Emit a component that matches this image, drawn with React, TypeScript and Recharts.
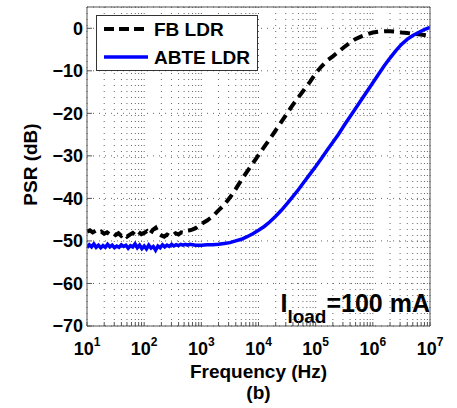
import React from "react";
import { CartesianGrid, Legend, Line, LineChart, XAxis, YAxis } from "recharts";

// FB LDR (black dashed): log10(frequency) and PSR in dB
const fbLogF = [
  1.0, 1.05, 1.1, 1.15, 1.2, 1.25, 1.3, 1.35, 1.4, 1.45, 1.5, 1.55, 1.6, 1.65, 1.7, 1.75, 1.8, 1.85, 1.9, 1.95,
  2.0, 2.05, 2.1, 2.15, 2.2, 2.25, 2.3, 2.35, 2.4, 2.45, 2.5, 2.55, 2.6, 2.65, 2.7, 2.75, 2.8, 2.85,
  2.9, 3.0, 3.1, 3.2, 3.3, 3.4, 3.5, 3.6, 3.7, 3.8, 3.9, 4.0, 4.1, 4.2, 4.3, 4.4, 4.5, 4.6, 4.7, 4.8, 4.9,
  5.0, 5.1, 5.2, 5.3, 5.4, 5.5, 5.6, 5.7, 5.8, 5.9, 6.0, 6.1, 6.2, 6.3, 6.4, 6.5, 6.6, 6.7, 6.8, 6.9, 7.0,
];
const fbDb = [
  -47.8, -47.5, -48.0, -47.6, -48.1, -47.8, -48.3, -48.0, -48.5, -48.1, -48.6, -48.2, -48.8, -48.3, -49.0, -48.5, -48.1, -48.7, -47.9, -48.4,
  -48.1, -47.7, -48.5, -47.4, -46.9, -48.3, -48.7, -49.0, -48.5, -48.9, -48.7, -48.2, -48.5, -48.0, -48.1, -47.6, -47.5, -47.3,
  -47.0, -46.0, -45.2, -44.2, -42.8, -41.5, -39.8, -37.8, -35.7, -33.7, -31.8, -29.8, -27.9, -26.0, -24.0, -22.0, -20.0, -18.0, -16.2, -14.4, -12.6,
  -10.6, -9.0, -7.6, -6.6, -5.5, -4.4, -3.4, -2.5, -1.9, -1.4, -1.0, -0.8, -0.7, -0.7, -0.8, -1.0, -1.1, -1.3, -1.4, -1.6, -1.8,
];

// ABTE LDR (blue solid)
const abteLogF = [
  1.0, 1.04, 1.08, 1.12, 1.16, 1.2, 1.24, 1.28, 1.32, 1.36, 1.4, 1.44, 1.48, 1.52, 1.56, 1.6, 1.64, 1.68, 1.72, 1.76,
  1.8, 1.84, 1.88, 1.92, 1.96, 2.0, 2.04, 2.08, 2.12, 2.16, 2.2, 2.24, 2.28, 2.32, 2.36, 2.4, 2.44, 2.48, 2.52, 2.56,
  2.6, 2.64, 2.68, 2.72, 2.76, 2.8, 2.85, 2.9, 2.95,
  3.0, 3.1, 3.2, 3.3, 3.4, 3.5, 3.6, 3.7, 3.8, 3.9, 4.0, 4.1, 4.2, 4.3, 4.4, 4.5, 4.6, 4.7, 4.8, 4.9,
  5.0, 5.1, 5.2, 5.3, 5.4, 5.5, 5.6, 5.7, 5.8, 5.9, 6.0, 6.1, 6.2, 6.3, 6.4, 6.5, 6.6, 6.7, 6.8, 6.9, 7.0,
];
const abteDb = [
  -51.6, -50.9, -51.4, -50.7, -51.5, -51.0, -51.6, -51.1, -51.5, -50.8, -51.4, -51.0, -51.6, -51.2, -51.5, -50.9, -51.3, -51.0, -51.7, -51.1,
  -51.4, -50.7, -51.6, -51.0, -51.8, -51.2, -51.9, -51.0, -51.7, -51.3, -52.2, -51.2, -51.6, -50.9, -51.4, -51.0, -51.3, -50.8, -51.2, -50.9,
  -51.1, -50.8, -51.0, -50.8, -51.0, -50.8, -50.9, -51.0, -51.0,
  -51.0, -50.9, -50.9, -50.8, -50.6, -50.4, -50.0, -49.6, -49.0, -48.3, -47.5, -46.6, -45.5, -44.2, -42.8, -41.2, -39.6, -37.9, -36.1, -34.3,
  -32.5, -30.6, -28.7, -26.8, -24.9, -22.8, -20.8, -18.8, -16.8, -14.8, -12.8, -10.8, -8.8, -7.0, -5.3, -3.8, -2.6, -1.7, -1.0, -0.3, 0.2,
];

const seriesNames = ["FB LDR", "ABTE LDR"];
const decades = [10, 100, 1000, 10000, 100000, 1000000, 10000000];
const minorSteps = [1, 2, 3, 4, 5, 6, 7, 8, 9];
const yTicks = [-70, -60, -50, -40, -30, -20, -10, 0];

const xTicks = decades.flatMap((d) => (d === 10000000 ? [d] : minorSteps.map((m) => d * m)));

const fbRows = fbLogF.map((l, i) => ({ f: Math.pow(10, l), db: fbDb[i] }));
const abteRows = abteLogF.map((l, i) => ({ f: Math.pow(10, l), db: abteDb[i] }));

const boxColor = "#555";

function FreqTick(props: any) {
  const { x, y, payload } = props;
  const e = Math.round(Math.log10(payload.value));
  if (Math.abs(Math.log10(payload.value) - e) > 1e-9) return null;
  return (
    <text x={x} y={y} textAnchor="middle" fontSize={18} fontWeight="bold" fill="#000">
      10
      <tspan dy={-9} fontSize={12}>
        {e}
      </tspan>
    </text>
  );
}

function XTitle(props: any) {
  const vb = props.viewBox;
  const cx = vb.x + vb.width / 2;
  return (
    <g fontSize={19} fontWeight="bold" fill="#000">
      <text x={cx} y={vb.y + 52} textAnchor="middle">Frequency (Hz)</text>
      <text x={cx} y={vb.y + 73} textAnchor="middle">(b)</text>
    </g>
  );
}

function YTitle(props: any) {
  const vb = props.viewBox;
  const x = vb.x + 10;
  const y = vb.y + vb.height / 2 - 2;
  return (
    <text x={x} y={y} transform={`rotate(-90, ${x}, ${y})`} textAnchor="middle" fontSize={19} fontWeight="bold" fill="#000">
      PSR (dB)
    </text>
  );
}

function LegendBox() {
  return (
    <div style={{ width: 160, height: 54, border: "1px solid #333", background: "#fff", fontSize: 19, fontWeight: "bold" }}>
      {seriesNames.map((name, i) => (
        <div key={name} style={{ display: "flex", alignItems: "center", height: 28, marginTop: i === 0 ? -1 : 0 }}>
          <svg width={44} height={8} style={{ marginLeft: 7 }}>
            <line x1={0} y1={4} x2={44} y2={4} stroke={i === 0 ? "#000" : "#0000ff"} strokeWidth={i === 0 ? 4 : 3.5} strokeDasharray={i === 0 ? "10 5" : undefined} />
          </svg>
          <span style={{ marginLeft: 6, lineHeight: 1 }}>{name}</span>
        </div>
      ))}
    </div>
  );
}

export default function App() {
  return (
    <div style={{ position: "absolute", left: 0, top: 0, fontFamily: "'Liberation Sans', Arial, sans-serif" }}>
      <LineChart width={457} height={408} margin={{ top: 6, right: 26, left: 27, bottom: 0 }}>
        <CartesianGrid stroke="#666" strokeDasharray="1 5" />
        <XAxis
          dataKey="f"
          type="number"
          scale="log"
          domain={[10, 10000000]}
          allowDataOverflow
          ticks={xTicks}
          interval={0}
          height={82}
          tickSize={-4}
          tickMargin={33}
          tick={<FreqTick />}
          axisLine={{ stroke: boxColor }}
          tickLine={{ stroke: boxColor }}
          label={XTitle}
        />
        <XAxis
          xAxisId="top"
          orientation="top"
          dataKey="f"
          type="number"
          scale="log"
          domain={[10, 10000000]}
          allowDataOverflow
          ticks={xTicks}
          interval={0}
          height={1}
          tickSize={-4}
          tick={false}
          axisLine={{ stroke: boxColor }}
          tickLine={{ stroke: boxColor }}
        />
        <YAxis
          type="number"
          domain={[-70, 5]}
          allowDataOverflow
          ticks={yTicks}
          interval={0}
          width={60}
          tickSize={-5}
          tickMargin={9}
          tick={{ fill: "#000", fontSize: 18, fontWeight: "bold" }}
          tickFormatter={(v: number) => (v < 0 ? `\u2212${-v}` : `${v}`)}
          axisLine={{ stroke: boxColor }}
          tickLine={{ stroke: boxColor }}
          label={YTitle}
        />
        <YAxis
          yAxisId="right"
          orientation="right"
          type="number"
          domain={[-70, 5]}
          allowDataOverflow
          ticks={yTicks}
          interval={0}
          width={1}
          tickSize={-5}
          tick={false}
          axisLine={{ stroke: boxColor }}
          tickLine={{ stroke: boxColor }}
        />
        <Legend
          layout="vertical"
          align="center"
          verticalAlign="middle"
          content={<LegendBox />}
          wrapperStyle={{ left: 96, top: 15, width: 162, height: 56 }}
        />
        <Line
          data={fbRows}
          dataKey="db"
          name={seriesNames[0]}
          stroke="#000"
          strokeWidth={4}
          strokeDasharray="10 6"
          dot={false}
          isAnimationActive={false}
        />
        <Line
          data={abteRows}
          dataKey="db"
          name={seriesNames[1]}
          stroke="#0000ff"
          strokeWidth={3.5}
          dot={false}
          isAnimationActive={false}
        />
        <text x={430} y={312} textAnchor="end" fontWeight="bold" fill="#000" fontSize={25}>
          I
          <tspan dy={11} fontSize={19}>load</tspan>
          <tspan dy={-11} fontSize={25}>=100 mA</tspan>
        </text>
      </LineChart>
    </div>
  );
}
